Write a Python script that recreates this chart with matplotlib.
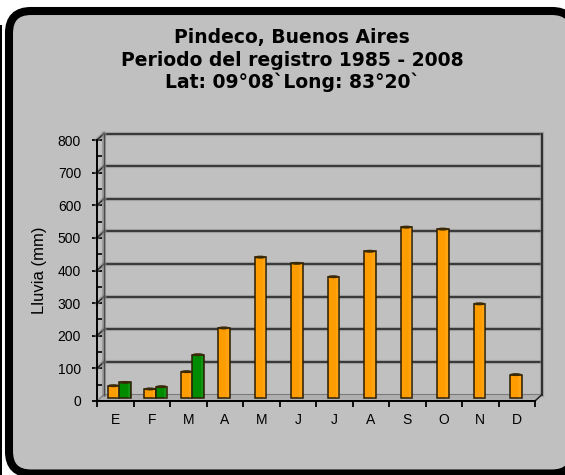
import matplotlib
matplotlib.use("Agg")
import matplotlib.pyplot as plt
import numpy as np
from matplotlib.patches import FancyBboxPatch, Rectangle, Polygon, Ellipse
import matplotlib.patheffects as pe

# --- data -------------------------------------------------------------
months = ["E", "F", "M", "A", "M", "J", "J", "A", "S", "O", "N", "D"]
serie_a = [37, 27, 80, 214, 431, 412, 371, 449, 523, 517, 288, 71]   # orange
serie_b = [47, 34, 132]                                              # green (E, F, M)
yticks = [0, 100, 200, 300, 400, 500, 600, 700, 800]
ylabel = "Lluvia (mm)"
title_lines = ["Pindeco, Buenos Aires",
               "Periodo del registro 1985 - 2008",
               "Lat: 09°08`Long: 83°20`"]

W, H = 565, 475
fig = plt.figure(figsize=(W / 100, H / 100), dpi=100)
fig.patch.set_facecolor("white")

# background layer in pixel units (y downwards)
bg = fig.add_axes([0, 0, 1, 1], zorder=0)
bg.set_xlim(0, W)
bg.set_ylim(H, 0)
bg.axis("off")
frame = FancyBboxPatch((9, 11), 574 - 9, 473.5 - 11,
                       boxstyle="round,pad=0,rounding_size=22",
                       facecolor="#c0c0c0", edgecolor="black", linewidth=5.8,
                       clip_on=False)
bg.add_patch(frame)
bg.add_patch(Rectangle((0, 25), 1.8, 450, facecolor="black", edgecolor="none"))

tfont = dict(family="DejaVu Sans", fontweight="bold", fontsize=13.5, color="black")
for txt, yb in zip(title_lines, [43, 65.5, 88]):
    bg.text(292, yb, txt, ha="center", va="baseline", **tfont)

# --- plot area --------------------------------------------------------
x0, x1, ytop, ybot = 97, 535, 140, 401
ax = fig.add_axes([x0 / W, 1 - ybot / H, (x1 - x0) / W, (ybot - ytop) / H], zorder=1)
ax.patch.set_visible(False)
ax.set_xlim(0, 12)
ax.set_ylim(0, 800)

n = len(months)
px_x = (x1 - x0) / n           # pixels per category
px_y = (ybot - ytop) / 800     # pixels per mm
dx = 7 / px_x                  # depth offset (data units)
dy = 6.5 / px_y

line_fx = [pe.Stroke(linewidth=3.0, foreground="#858585", alpha=0.55), pe.Normal()]
grid_col = "#262626"

# floor
ax.add_patch(Polygon([(0, 0), (12, 0), (12 + dx, dy), (dx, dy)], closed=True,
                     facecolor="#b0b0b0", edgecolor="#7a7a7a", linewidth=0.8,
                     zorder=1, clip_on=False))

# back-wall gridlines, side stubs and wall edges
for v in yticks[1:]:
    ax.plot([dx, 12 + dx], [v + dy, v + dy], color=grid_col, lw=1.2,
            clip_on=False, zorder=2, path_effects=line_fx, solid_capstyle="butt")
    ax.plot([0, dx], [v, v + dy], color=grid_col, lw=1.0,
            clip_on=False, zorder=2, path_effects=line_fx)
ax.plot([dx, dx], [dy, 800 + dy], color="#4a4a4a", lw=1.0, clip_on=False, zorder=2,
        path_effects=line_fx)
ax.plot([12 + dx, 12 + dx], [dy, 800 + dy], color=grid_col, lw=1.3, clip_on=False,
        zorder=2, path_effects=line_fx)
ax.plot([12, 12 + dx], [0, dy], color=grid_col, lw=1.1, clip_on=False, zorder=2)

# bars
bw = 11.5 / px_x
orange, green = "#ff9c00", "#008c00"
edge = "#2a1c00"

def draw_bar(xc, val, color):
    ax.bar(xc, val, width=bw, bottom=dy / 2, color=color, edgecolor=edge,
           linewidth=1.1, zorder=4, clip_on=False)
    ax.add_patch(Rectangle((xc + bw * 0.22, dy / 2), bw * 0.25, val,
                           facecolor="white", alpha=0.08, edgecolor="none", zorder=5))
    ax.add_patch(Ellipse((xc, dy / 2 + val), bw * 1.02, 3.0 / px_y,
                         facecolor="#3a2a08", edgecolor="none", zorder=6, clip_on=False))

for i, v in enumerate(serie_a):
    if i < len(serie_b):
        xc = i + 0.5 + 4 / px_x - bw / 2
    else:
        xc = i + 0.5 - 1 / px_x
    draw_bar(xc, v, orange)
for i, v in enumerate(serie_b):
    xc = i + 0.5 + 4 / px_x + bw / 2
    draw_bar(xc, v, green)

# axes and ticks
for s in ["top", "right"]:
    ax.spines[s].set_visible(False)
for s in ["left", "bottom"]:
    ax.spines[s].set_linewidth(1.4)
    ax.spines[s].set_color("black")
    ax.spines[s].set_zorder(7)

tick_font = dict(family="Liberation Sans", size=10)
ax.set_yticks(yticks)
ax.set_yticklabels([str(t) for t in yticks], fontdict=tick_font)
ax.set_yticks(np.arange(50, 800, 100), minor=True)
ax.tick_params(axis="y", which="major", direction="inout", length=7, width=1.3, pad=8)
ax.tick_params(axis="y", which="minor", direction="in", length=3.5, width=1.2)

ax.set_xticks(np.arange(0, 13))
ax.set_xticklabels([""] * 13)
ax.set_xticks(np.arange(n) + 0.5, minor=True)
ax.set_xticklabels(months, minor=True, fontdict=tick_font)
ax.tick_params(axis="x", which="major", direction="out", length=4.5, width=1.3)
ax.tick_params(axis="x", which="minor", length=0, pad=9)

ax.set_ylabel(ylabel, family="Liberation Sans", fontsize=12, labelpad=8)

fig.savefig("out.png", dpi=100, facecolor="white")
